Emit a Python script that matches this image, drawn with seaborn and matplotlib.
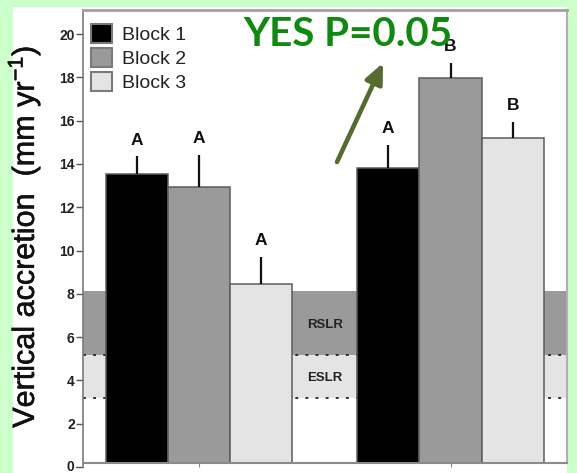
import matplotlib
matplotlib.use("Agg")
import matplotlib.pyplot as plt
import matplotlib.patheffects as pe
import matplotlib.transforms as mtrans
from matplotlib.patches import Rectangle, Patch
import numpy as np
import pandas as pd
import seaborn as sns

# ---- data -------------------------------------------------------------
sites = ["Site 1", "Site 2"]
blocks = ["Block 1", "Block 2", "Block 3"]
block1_mean = [13.55, 13.8]
block2_mean = [12.95, 17.95]
block3_mean = [8.45, 15.2]
block1_se = [0.8, 1.07]
block2_se = [1.46, 0.72]
block3_se = [1.27, 0.75]
block1_letters = ["A", "A"]
block2_letters = ["A", "B"]
block3_letters = ["A", "B"]
rslr_range = [5.18, 8.15]   # relative sea-level rise
eslr_range = [3.18, 5.18]   # eustatic sea-level rise
yticks = [0, 2, 4, 6, 8, 10, 12, 14, 16, 18, 20]

means = [block1_mean, block2_mean, block3_mean]
ses = [block1_se, block2_se, block3_se]
letters = [block1_letters, block2_letters, block3_letters]

df = pd.DataFrame({
    "Site": sites * len(blocks),
    "Block": [b for b in blocks for _ in sites],
    "Accretion": [v for m in means for v in m],
})

# ---- style ------------------------------------------------------------
sns.set_theme(style="ticks")
plt.rcParams["font.family"] = ["Liberation Sans", "DejaVu Sans"]
plt.rcParams["mathtext.fontset"] = "custom"
plt.rcParams["mathtext.rm"] = "Liberation Sans"
plt.rcParams["mathtext.default"] = "rm"

W, H = 577, 473
fig = plt.figure(figsize=(W / 100, H / 100), dpi=100, facecolor="#ccffcc")
fig.add_artist(Rectangle((13 / W, 0), (567 - 13) / W, (473 - 7) / H,
                         transform=fig.transFigure, facecolor="white",
                         edgecolor="none", zorder=-5))

ax_l, ax_r, ax_t, ax_b = 83, 567, 10, 463
px_per_unit = 21.65
y_zero_px = 467.0
ax = fig.add_axes([ax_l / W, (H - ax_b) / H, (ax_r - ax_l) / W, (ax_b - ax_t) / H])
ax.set_facecolor("none")

palette = ["#000000", "#9a9a9a", "#e4e4e4"]

# sea-level reference bands
ax.axhspan(*rslr_range, color="#9a9a9a", lw=0, zorder=0)
ax.axhspan(*eslr_range, color="#e4e4e4", lw=0, zorder=0)
for yv in (rslr_range[0], eslr_range[0]):
    ax.axhline(yv, color="#222222", lw=1.3, ls=(0, (1.6, 4.0)), zorder=0.5)

sns.barplot(data=df, x="Site", y="Accretion", hue="Block", order=sites,
            hue_order=blocks, palette=palette, width=0.743, errorbar=None,
            edgecolor="#5c5c5c", linewidth=1.1, legend=False, ax=ax, zorder=2)

# one-sided error bars and significance letters
for cont, se, lets in zip(ax.containers, ses, letters):
    xs = [p.get_x() + p.get_width() / 2 for p in cont.patches]
    hs = [p.get_height() for p in cont.patches]
    ax.errorbar(xs, hs, yerr=[np.zeros(len(se)), se], fmt="none",
                ecolor="#111111", elinewidth=1.6, capsize=0, zorder=3)
    for x, h, e, t in zip(xs, hs, se, lets):
        ax.text(x, h + e + 0.4, t, ha="center", va="bottom", fontsize=12.5,
                fontweight="bold", color="#111111", zorder=4)

ax.text(0.5, 6.55, "RSLR", ha="center", va="center", fontsize=9.5,
        fontweight="bold", color="#222222", zorder=1)
ax.text(0.5, 4.1, "ESLR", ha="center", va="center", fontsize=9.5,
        fontweight="bold", color="#222222", zorder=1)

ax.set_xlim(-0.461, 1.463)
ax.set_ylim((y_zero_px - ax_b) / px_per_unit, (y_zero_px - ax_t) / px_per_unit)
ax.set_yticks(yticks[1:])
ax.set_yticklabels([str(t) for t in yticks[1:]])
ax.set_xticks([0, 1])
ax.set_xticklabels([])
ax.set_xlabel("")
ax.set_ylabel("")
ax.tick_params(axis="y", length=5, width=1, color="#555555", labelsize=10,
               labelcolor="#222222", pad=1)
for lab in ax.get_yticklabels():
    lab.set_fontweight("bold")
ax.tick_params(axis="x", length=3, width=0.8, color="#888888")

for side, col, lw in (("left", "#7a7a7a", 1.2), ("bottom", "#8a8a8a", 1.5),
                      ("top", "#a0a0a0", 2.0), ("right", "#b0b0b0", 1.5)):
    ax.spines[side].set_visible(True)
    ax.spines[side].set_color(col)
    ax.spines[side].set_linewidth(lw)
# the y axis runs a little below the baseline down to zero
ax.spines["left"].set_bounds(yticks[0], ax.get_ylim()[1])
zero_tr = mtrans.blended_transform_factory(ax.transAxes, ax.transData)
ax.plot([-7 / (ax_r - ax_l), 0], [yticks[0], yticks[0]], transform=zero_tr,
        color="#555555", lw=1, clip_on=False)
ax.text(-9 / (ax_r - ax_l), yticks[0], str(yticks[0]), transform=zero_tr,
        ha="right", va="center", fontsize=10, fontweight="bold",
        color="#222222", clip_on=False)

handles = [Patch(facecolor=c, edgecolor="#7a7a7a", linewidth=1.5) for c in palette]
ax.legend(handles, blocks, loc="upper left",
          bbox_to_anchor=(8 / (ax_r - ax_l), 1 - 14 / (ax_b - ax_t)),
          frameon=False, fontsize=14, handlelength=1.1, handleheight=1.13,
          labelspacing=0.2, handletextpad=0.5, borderpad=0, borderaxespad=0,
          labelcolor="#222222")

fig.text(24 / W, 1 - 237 / H, "Vertical accretion  (mm yr$^{-1}$)",
         rotation=90, ha="center", va="center", fontsize=22, color="#111111",
         path_effects=[pe.withStroke(linewidth=0.4, foreground="#111111")])

# annotation
ax.text((243 - ax_l) / (ax_r - ax_l), (ax_b - 46) / (ax_b - ax_t), "YES P=0.05",
        transform=ax.transAxes, ha="left", va="baseline", fontsize=29,
        fontweight="bold", family=["Lato", "DejaVu Sans"], color="#118811",
        zorder=6)
ax.annotate("", xy=((383 - ax_l) / (ax_r - ax_l), (ax_b - 63) / (ax_b - ax_t)),
            xytext=((337 - ax_l) / (ax_r - ax_l), (ax_b - 162) / (ax_b - ax_t)),
            xycoords="axes fraction", textcoords="axes fraction",
            arrowprops=dict(arrowstyle="-|>,head_length=1.0,head_width=0.45",
                            mutation_scale=12, lw=3.3, color="#556b2f",
                            shrinkA=0, shrinkB=0), zorder=6)

fig.savefig("out.png", dpi=100, facecolor=fig.get_facecolor())
